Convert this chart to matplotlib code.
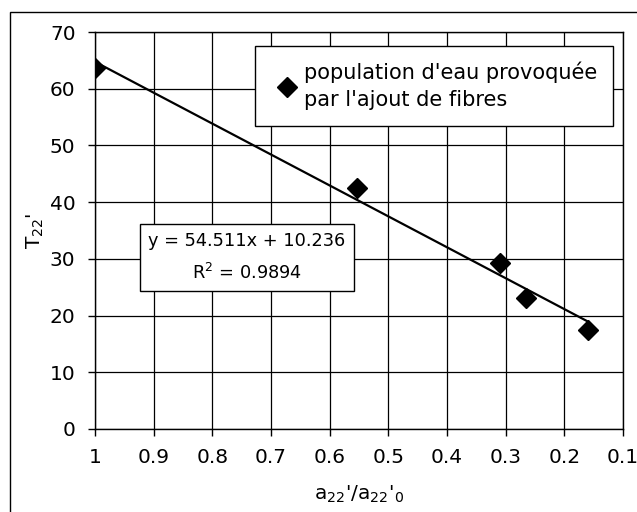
import matplotlib.pyplot as plt
from matplotlib.patches import Rectangle

plt.rcParams["font.family"] = ["DejaVu Sans"]
plt.rcParams["mathtext.default"] = "regular"

# ratio a22'/a22'0 and T22' values
ratio = [1.0, 0.553, 0.309, 0.266, 0.159]
t22 = [63.6, 42.5, 29.2, 23.1, 17.5]

slope = 54.511
intercept = 10.236
r2 = 0.9894

x_ticks = [1, 0.9, 0.8, 0.7, 0.6, 0.5, 0.4, 0.3, 0.2, 0.1]
x_tick_labels = ["1", "0.9", "0.8", "0.7", "0.6", "0.5", "0.4", "0.3", "0.2", "0.1"]
y_ticks = [0, 10, 20, 30, 40, 50, 60, 70]

fig = plt.figure(figsize=(6.37, 5.12), dpi=100)
ax = fig.add_axes([95 / 637, 1 - 429 / 512, 528 / 637, 397 / 512])

# outer chart frame
fig.patches.append(Rectangle((10 / 637, -0.1), 1.2, 1 - 12 / 512 + 0.1,
                             transform=fig.transFigure, fill=False,
                             edgecolor="black", linewidth=1.0))

ax.plot(ratio, t22, linestyle="none", marker="D", markersize=10,
        color="black", label="population d'eau provoquée\npar l'ajout de fibres",
        zorder=4)

fit_x = [max(ratio), min(ratio)]
fit_y = [slope * v + intercept for v in fit_x]
ax.plot(fit_x, fit_y, color="black", linewidth=1.6, zorder=3)

ax.set_xlim(1, 0.1)
ax.set_ylim(0, 70)
ax.set_xticks(x_ticks)
ax.set_xticklabels(x_tick_labels)
ax.set_yticks(y_ticks)
ax.tick_params(labelsize=14.5, direction="out", length=5, width=1)
ax.tick_params(axis="x", pad=9)
ax.tick_params(axis="y", pad=9)
ax.grid(True, color="black", linewidth=0.9)
ax.set_axisbelow(True)
for s in ax.spines.values():
    s.set_linewidth(1.0)

ax.set_xlabel("a$_{22}$'/a$_{22}$'$_0$", fontsize=14.5, labelpad=12)
ax.set_ylabel("T$_{22}$'", fontsize=14.5, labelpad=3)

leg = ax.legend(loc="upper left", bbox_to_anchor=(0.303, 0.965), fontsize=15,
                handletextpad=0.0, handlelength=1.6, borderpad=0.75,
                borderaxespad=0.0, labelspacing=0.2,
                fancybox=False, framealpha=1, edgecolor="black")
leg.get_frame().set_linewidth(1.0)
for t in leg.get_texts():
    t.set_linespacing(1.45)

eq_text = f"y = {slope}x + {intercept}\nR$^2$ = {r2}"
ax.text(0.288, 0.432, eq_text,
        transform=ax.transAxes, ha="center", va="center", fontsize=12.8,
        linespacing=1.75,
        bbox=dict(boxstyle="square,pad=0.45", facecolor="white",
                  edgecolor="black", linewidth=1.0))

fig.savefig("out.png", dpi=100)
